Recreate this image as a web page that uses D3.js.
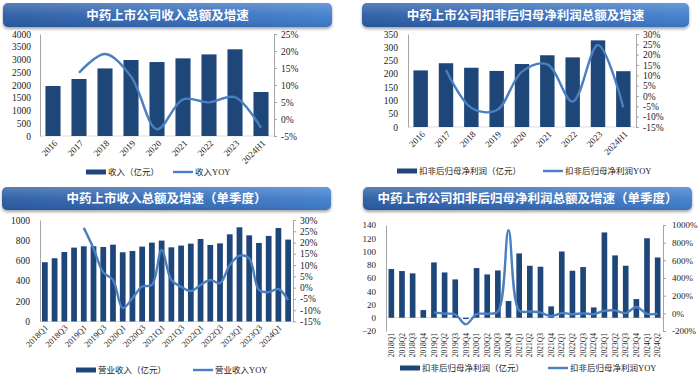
<!doctype html>
<html lang="zh">
<head>
<meta charset="utf-8">
<title>中药上市公司收入及扣非归母净利润</title>
<script src="https://cdn.jsdelivr.net/npm/d3@7"></script>
<style>
    body { margin: 0; background: #fff; }
    svg { display: block; }
    .tick text { font-family: "Liberation Serif", "Times New Roman", serif; fill: #222; }
    .legend text { font-family: "Liberation Serif", "Noto Sans CJK SC", serif; fill: #222; }
</style>
</head>
<body>
<svg></svg>
<script>
var width = 700;
var height = 377;

// annual data
var years = ["2016", "2017", "2018", "2019", "2020", "2021", "2022", "2023", "2024H1"];
var yearRevenue = [1960, 2235, 2650, 2980, 2900, 3045, 3200, 3400, 1725];
var yearRevenueYoy = [null, 13.6, 19.1, 12.5, -3.0, 5.8, 4.9, 6.4, -2.6];
var yearProfit = [213, 240, 223, 211, 237, 270, 262, 326, 210];
var yearProfitYoy = [null, 12.6, -5.8, -6.9, 11.8, 15.3, -2.7, 24.7, -5.5];

// quarterly data
var quarters = ["2018Q1", "2018Q2", "2018Q3", "2018Q4", "2019Q1", "2019Q2", "2019Q3", "2019Q4",
    "2020Q1", "2020Q2", "2020Q3", "2020Q4", "2021Q1", "2021Q2", "2021Q3", "2021Q4",
    "2022Q1", "2022Q2", "2022Q3", "2022Q4", "2023Q1", "2023Q2", "2023Q3", "2023Q4",
    "2024Q1", "2024Q2"];
var quarterRevenue = [584, 623, 685, 728, 741, 741, 734, 757, 682, 695, 738, 777, 797, 731, 748, 767,
    813, 754, 770, 859, 928, 849, 774, 843, 921, 807];
var quarterRevenueYoy = [null, null, null, null, 26.5, 17.4, 6.8, 3.4, -9.1, -4.7, 0.5, 1.2, 16.7, 3.4, 0.4, -1.5,
    1.2, 3.4, 2.0, 10.0, 14.2, 13.0, -1.0, -2.0, -0.6, -5.5];
var quarterProfit = [73.5, 70.5, 67, 11.6, 83.5, 68.4, 57.9, -2, 75, 65.4, 71.4, 25.2, 97.1, 78.5, 77, 17.2,
    100, 71, 76.5, 15.6, 128.8, 94.1, 78.5, 28.2, 120, 91];
var quarterProfitYoy = [null, null, null, null, 11, -3, -13, -125, -10, -4, 20, 940, 30, 20, 8, -32,
    3, -10, 0, -9, 29, 33, 2, 72, -7, -3];

var barColor = "#1f4679";
var lineColor = "#4a7fc2";

var svg = d3.select('svg').attr('width', width).attr('height', height);
var defs = svg.append('defs');

var grad = defs.append('linearGradient').attr('id', 'bannerGrad')
    .attr('x1', 0).attr('y1', 0).attr('x2', 1).attr('y2', 0);
grad.append('stop').attr('offset', '0%').attr('stop-color', '#2a5aa3');
grad.append('stop').attr('offset', '100%').attr('stop-color', '#3f7dcc');

var gloss = defs.append('linearGradient').attr('id', 'bannerGloss')
    .attr('x1', 0).attr('y1', 0).attr('x2', 0).attr('y2', 1);
gloss.append('stop').attr('offset', '0%').attr('stop-color', '#fff').attr('stop-opacity', 0.22);
gloss.append('stop').attr('offset', '55%').attr('stop-color', '#fff').attr('stop-opacity', 0.04);
gloss.append('stop').attr('offset', '100%').attr('stop-color', '#000').attr('stop-opacity', 0.08);

var shadow = defs.append('filter').attr('id', 'shadow')
    .attr('x', '-5%').attr('y', '-30%').attr('width', '110%').attr('height', '180%');
shadow.append('feDropShadow').attr('dx', 0).attr('dy', 2).attr('stdDeviation', 1.5)
    .attr('flood-color', '#000').attr('flood-opacity', 0.35);

function banner(x, y, w, h, title) {
    var g = svg.append('g');
    g.append('rect').attr('x', x).attr('y', y).attr('width', w).attr('height', h)
        .attr('rx', 5).attr('fill', 'url(#bannerGrad)').attr('filter', 'url(#shadow)');
    g.append('rect').attr('x', x).attr('y', y).attr('width', w).attr('height', h)
        .attr('rx', 5).attr('fill', 'url(#bannerGloss)');
    g.append('text').attr('x', x + w / 2).attr('y', y + h / 2).attr('dy', '0.36em')
        .attr('text-anchor', 'middle')
        .style('font-family', '"Noto Sans CJK SC", sans-serif')
        .style('font-weight', 'bold').style('font-size', '12.5px')
        .attr('fill', '#fff').text(title);
}

function panel(p) {
    var xScale = d3.scaleBand().domain(p.cats).range([p.x0, p.x1])
        .paddingInner(p.pad).paddingOuter(p.pad / 2);
    var yLeft = d3.scaleLinear().domain(p.leftDomain).range([p.yBot, p.yTop]);
    var yRight = d3.scaleLinear().domain(p.rightDomain).range([p.yBot, p.yTop]);
    var bw = xScale.bandwidth();

    // zero baseline
    svg.append('line')
        .attr('x1', p.x0).attr('x2', p.x1)
        .attr('y1', yLeft(0)).attr('y2', yLeft(0))
        .attr('stroke', '#d4d4d4').attr('stroke-width', 0.8);

    svg.append('g').selectAll('rect')
        .data(p.bars)
        .enter()
        .append('rect')
        .attr('x', function (d, i) { return xScale(p.cats[i]); })
        .attr('width', bw)
        .attr('y', function (d) { return yLeft(Math.max(0, d)); })
        .attr('height', function (d) { return Math.abs(yLeft(d) - yLeft(0)); })
        .attr('fill', barColor);

    var pts = p.line.map(function (v, i) { return { c: p.cats[i], v: v }; })
        .filter(function (d) { return d.v !== null; });
    var line = d3.line()
        .x(function (d) { return xScale(d.c) + bw / 2; })
        .y(function (d) { return yRight(d.v); })
        .curve(d3.curveCatmullRom.alpha(0.5));
    svg.append('path').datum(pts)
        .attr('d', line)
        .attr('fill', 'none')
        .attr('stroke', lineColor)
        .attr('stroke-width', 2.4);

    var leftAxis = d3.axisLeft(yLeft).tickValues(p.leftTicks)
        .tickSize(0).tickPadding(p.leftPad).tickFormat(d3.format('d'));
    var gl = svg.append('g').attr('transform', 'translate(' + p.x0 + ',0)').call(leftAxis);
    gl.selectAll('text').style('font-size', p.tickFont + 'px');

    var rightAxis = d3.axisRight(yRight).tickValues(p.rightTicks)
        .tickSize(3).tickSizeOuter(0).tickPadding(p.rightPad)
        .tickFormat(function (d) { return d + '%'; });
    var gr = svg.append('g').attr('transform', 'translate(' + p.x1 + ',0)').call(rightAxis);
    gr.selectAll('text').style('font-size', p.tickFont + 'px');

    [gl, gr].forEach(function (g) {
        g.select('.domain').attr('stroke', '#a6a6a6');
        g.selectAll('.tick line').attr('stroke', '#a6a6a6');
    });

    // category labels
    svg.append('g').selectAll('text')
        .data(p.cats)
        .enter()
        .filter(function (d, i) { return i % p.labelEvery === 0; })
        .append('text')
        .attr('transform', function (d) {
            return 'translate(' + (xScale(d) + bw / 2 + p.labelDx) + ',' + (p.yBot + p.labelDy) + ') rotate(' + p.labelRot + ')';
        })
        .attr('text-anchor', 'end')
        .attr('dy', p.labelRot === -90 ? '0.35em' : '0.3em')
        .style('font-family', '"Liberation Serif", "Times New Roman", serif')
        .style('font-size', p.labelFont + 'px')
        .attr('fill', '#222')
        .text(function (d) { return d; });

    // legend
    var lg = svg.append('g').attr('class', 'legend');
    lg.append('rect').attr('x', p.legBar).attr('y', p.legY - 2.5)
        .attr('width', 20).attr('height', 5).attr('fill', barColor);
    lg.append('text').attr('x', p.legBar + 22).attr('y', p.legY).attr('dy', '0.35em')
        .style('font-size', '8.5px').text(p.barName);
    lg.append('line').attr('x1', p.legLine).attr('x2', p.legLine + 20)
        .attr('y1', p.legY).attr('y2', p.legY)
        .attr('stroke', lineColor).attr('stroke-width', 2.4);
    lg.append('text').attr('x', p.legLine + 22).attr('y', p.legY).attr('dy', '0.35em')
        .style('font-size', '8.5px').text(p.lineName);
}

banner(3, 3, 329, 24, "中药上市公司收入总额及增速");
banner(362, 3, 327, 24, "中药上市公司扣非后归母净利润总额及增速");
banner(2, 187, 329, 23, "中药上市收入总额及增速（单季度）");
banner(363, 187, 329, 23, "中药上市公司扣非后归母净利润总额及增速（单季度）");

panel({
    cats: years, bars: yearRevenue, line: yearRevenueYoy,
    x0: 40, x1: 274, yTop: 34, yBot: 136, pad: 0.42,
    leftDomain: [0, 4000], leftTicks: d3.range(0, 4001, 500),
    rightDomain: [-5, 25], rightTicks: d3.range(-5, 26, 5),
    leftPad: 9, rightPad: 4, tickFont: 9.5,
    labelEvery: 1, labelRot: -45, labelDx: 3, labelDy: 6, labelFont: 9,
    legY: 172, legBar: 86, legLine: 173,
    barName: "收入（亿元）", lineName: "收入YOY"
});

panel({
    cats: years, bars: yearProfit, line: yearProfitYoy,
    x0: 408, x1: 636, yTop: 34, yBot: 127, pad: 0.43,
    leftDomain: [0, 350], leftTicks: d3.range(0, 351, 50),
    rightDomain: [-15, 30], rightTicks: d3.range(-15, 31, 5),
    leftPad: 10, rightPad: 4, tickFont: 9.5,
    labelEvery: 1, labelRot: -45, labelDx: 3, labelDy: 6, labelFont: 9,
    legY: 171, legBar: 397, legLine: 543,
    barName: "扣非后归母净利润（亿元）", lineName: "扣非后归母净利润YOY"
});

panel({
    cats: quarters, bars: quarterRevenue, line: quarterRevenueYoy,
    x0: 40, x1: 293, yTop: 220, yBot: 321.5, pad: 0.41,
    leftDomain: [0, 1000], leftTicks: d3.range(0, 1001, 200),
    rightDomain: [-15, 30], rightTicks: d3.range(-15, 31, 5),
    leftPad: 10, rightPad: 4, tickFont: 9.5,
    labelEvery: 2, labelRot: -45, labelDx: 2, labelDy: 5, labelFont: 8.5,
    legY: 370, legBar: 76, legLine: 193,
    barName: "营业收入（亿元）", lineName: "营业收入YOY"
});

panel({
    cats: quarters, bars: quarterProfit, line: quarterProfitYoy,
    x0: 386, x1: 663, yTop: 225, yBot: 331, pad: 0.47,
    leftDomain: [-20, 140], leftTicks: d3.range(-20, 141, 20),
    rightDomain: [-200, 1000], rightTicks: d3.range(-200, 1001, 200),
    leftPad: 10, rightPad: 6, tickFont: 9,
    labelEvery: 1, labelRot: -90, labelDx: 0, labelDy: 2, labelFont: 7.5,
    legY: 368, legBar: 400, legLine: 548,
    barName: "扣非后归母净利润（亿元）", lineName: "扣非后归母净利润YOY"
});
</script>
</body>
</html>
